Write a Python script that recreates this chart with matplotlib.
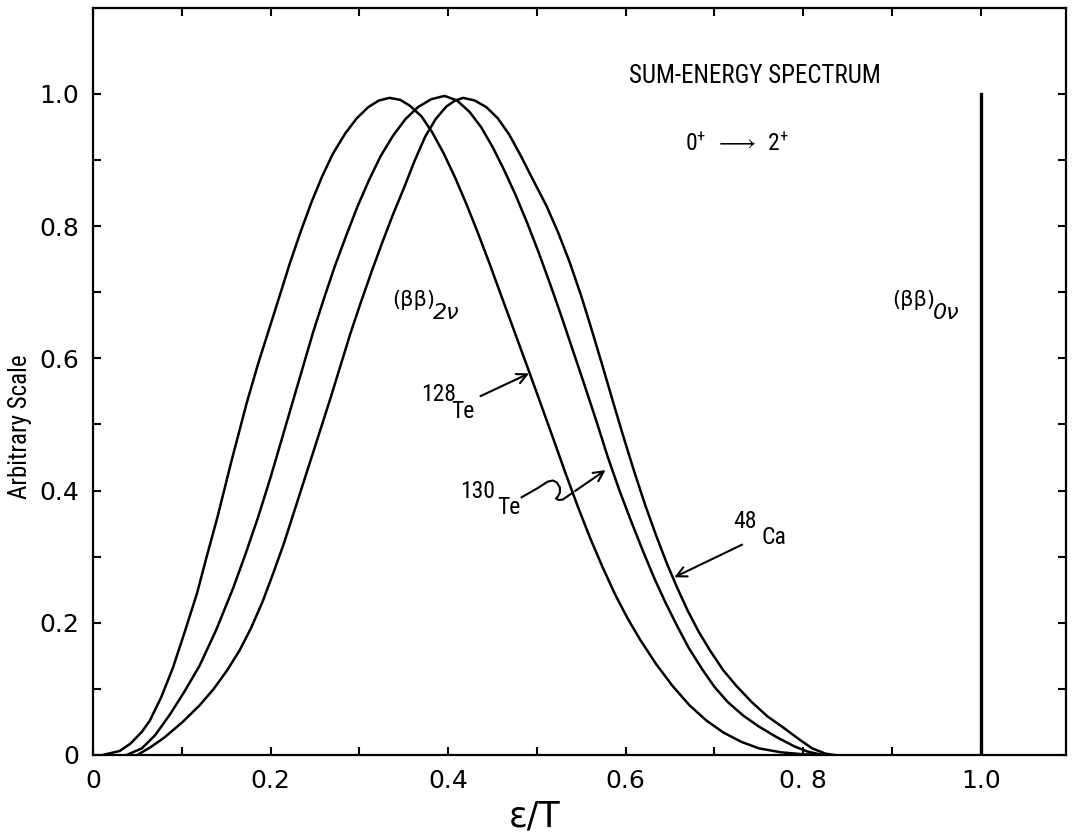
import matplotlib
matplotlib.use("Agg")
import matplotlib.pyplot as plt
from matplotlib import font_manager as fm
from matplotlib.ticker import FixedLocator, FixedFormatter

def pick(names):
    for n in names:
        try:
            fm.findfont(fm.FontProperties(family=n), fallback_to_default=False)
            return n
        except Exception:
            pass
    return "DejaVu Sans"

NARROW = pick(["Liberation Sans Narrow", "Roboto Condensed", "Open Sans Condensed", "Liberation Sans"])
plt.rcParams['font.family'] = [NARROW, 'DejaVu Sans']
plt.rcParams['mathtext.fontset'] = 'dejavusans'

# ---------------- data ----------------
te128_x = [0.011, 0.030, 0.042, 0.055, 0.064, 0.077, 0.090, 0.103, 0.117, 0.128, 0.140, 0.156,
           0.173, 0.186, 0.199, 0.211, 0.222, 0.234, 0.246, 0.258, 0.270, 0.284, 0.297, 0.310,
           0.322, 0.334, 0.346, 0.357, 0.370, 0.382, 0.395, 0.408, 0.421, 0.434, 0.447, 0.460,
           0.474, 0.489, 0.503, 0.518, 0.532, 0.546, 0.560, 0.574, 0.588, 0.602, 0.616, 0.634,
           0.653, 0.672, 0.691, 0.710, 0.730, 0.750, 0.775, 0.800, 0.820]
te128_y = [0.000, 0.006, 0.017, 0.035, 0.052, 0.088, 0.132, 0.185, 0.244, 0.300, 0.359, 0.445,
           0.532, 0.592, 0.647, 0.698, 0.745, 0.792, 0.836, 0.875, 0.909, 0.940, 0.963, 0.980,
           0.990, 0.994, 0.991, 0.982, 0.966, 0.942, 0.910, 0.873, 0.832, 0.788, 0.742, 0.694,
           0.643, 0.588, 0.536, 0.480, 0.427, 0.376, 0.328, 0.284, 0.243, 0.207, 0.175, 0.138,
           0.104, 0.075, 0.052, 0.034, 0.020, 0.010, 0.004, 0.001, 0.000]

te130_x = [0.038, 0.055, 0.070, 0.087, 0.103, 0.120, 0.139, 0.158, 0.172, 0.186, 0.200, 0.212,
           0.224, 0.236, 0.248, 0.260, 0.272, 0.285, 0.298, 0.311, 0.324, 0.338, 0.352, 0.366,
           0.381, 0.396, 0.410, 0.424, 0.437, 0.450, 0.463, 0.476, 0.489, 0.502, 0.515, 0.528,
           0.541, 0.554, 0.567, 0.580, 0.593, 0.606, 0.619, 0.632, 0.645, 0.658, 0.671, 0.686,
           0.700, 0.715, 0.732, 0.750, 0.770, 0.790, 0.805, 0.822]
te130_y = [0.000, 0.010, 0.030, 0.062, 0.096, 0.135, 0.190, 0.253, 0.305, 0.360, 0.420, 0.475,
           0.530, 0.585, 0.640, 0.690, 0.738, 0.785, 0.830, 0.870, 0.906, 0.937, 0.962, 0.980,
           0.992, 0.997, 0.990, 0.973, 0.950, 0.920, 0.885, 0.847, 0.805, 0.760, 0.712, 0.662,
           0.610, 0.558, 0.505, 0.450, 0.400, 0.354, 0.310, 0.268, 0.230, 0.195, 0.162, 0.130,
           0.103, 0.080, 0.060, 0.043, 0.027, 0.013, 0.005, 0.000]

ca48_x = [0.050, 0.065, 0.080, 0.101, 0.120, 0.136, 0.151, 0.165, 0.178, 0.191, 0.203, 0.215,
          0.226, 0.237, 0.248, 0.258, 0.268, 0.279, 0.290, 0.302, 0.314, 0.326, 0.338, 0.350,
          0.362, 0.374, 0.386, 0.398, 0.408, 0.417, 0.430, 0.443, 0.456, 0.469, 0.482, 0.496,
          0.511, 0.524, 0.537, 0.550, 0.562, 0.574, 0.586, 0.598, 0.610, 0.622, 0.634, 0.646,
          0.658, 0.670, 0.682, 0.695, 0.710, 0.725, 0.742, 0.760, 0.777, 0.795, 0.810, 0.825,
          0.835]
ca48_y = [0.000, 0.012, 0.026, 0.050, 0.075, 0.100, 0.128, 0.158, 0.192, 0.232, 0.275, 0.320,
          0.366, 0.412, 0.458, 0.500, 0.542, 0.590, 0.638, 0.686, 0.732, 0.776, 0.818, 0.857,
          0.898, 0.935, 0.962, 0.981, 0.990, 0.994, 0.990, 0.980, 0.963, 0.938, 0.906, 0.869,
          0.830, 0.790, 0.745, 0.694, 0.642, 0.588, 0.533, 0.479, 0.427, 0.378, 0.333, 0.291,
          0.253, 0.218, 0.187, 0.158, 0.128, 0.104, 0.080, 0.058, 0.042, 0.024, 0.010, 0.002,
          0.000]

zero_nu_x = [1.0, 1.0]
zero_nu_y = [0.0, 1.0]

x_ticks = [0.0, 0.1, 0.2, 0.3, 0.4, 0.5, 0.6, 0.7, 0.8, 0.9, 1.0]
x_ticklabels = ["0", "", "0.2", "", "0.4", "", "0.6", "", "0. 8", "", "1.0"]
y_ticks = [0.0, 0.1, 0.2, 0.3, 0.4, 0.5, 0.6, 0.7, 0.8, 0.9, 1.0]
y_ticklabels = ["0", "", "0.2", "", "0.4", "", "0.6", "", "0.8", "", "1.0"]

# ---------------- figure ----------------
fig = plt.figure(figsize=(10.72, 8.38), dpi=100)
ax = fig.add_axes([0.0868, 0.0991, 0.9076, 0.8914])

lw = 1.8
ax.plot(te128_x, te128_y, color='black', lw=lw, solid_joinstyle='round')
ax.plot(te130_x, te130_y, color='black', lw=lw, solid_joinstyle='round')
ax.plot(ca48_x, ca48_y, color='black', lw=lw, solid_joinstyle='round')
ax.plot(zero_nu_x, zero_nu_y, color='black', lw=2.4)

ax.set_xlim(0, 1.096)
ax.set_ylim(0, 1.13)

for s in ax.spines.values():
    s.set_linewidth(1.6)

ax.xaxis.set_major_locator(FixedLocator(x_ticks))
ax.xaxis.set_major_formatter(FixedFormatter(x_ticklabels))
ax.yaxis.set_major_locator(FixedLocator(y_ticks))
ax.yaxis.set_major_formatter(FixedFormatter(y_ticklabels))
ax.tick_params(direction='in', length=6, width=1.5, top=True, right=True,
               labelsize=18, pad=10)
for lab in ax.get_xticklabels() + ax.get_yticklabels():
    lab.set_family('DejaVu Sans')

ax.set_xlabel("ε/T", fontsize=25, family='DejaVu Sans')
ax.xaxis.set_label_coords(0.454, -0.060)
ax.set_ylabel("Arbitrary Scale", fontsize=18)
ax.yaxis.set_label_coords(-0.063, 0.439)

# annotations
ax.text(0.745, 1.027, "SUM-ENERGY SPECTRUM", fontsize=18, ha='center', va='center')
ax.text(0.725, 0.923, r"$\mathregular{0^{+}\ \longrightarrow\ 2^{+}}$", fontsize=17,
        ha='center', va='center')

ax.text(0.337, 0.688, "(ββ)", fontsize=15, ha='left', va='center', family='DejaVu Sans')
ax.text(0.383, 0.668, "2ν", fontsize=16, ha='left', va='center', family='DejaVu Sans',
        style='italic')
ax.text(0.900, 0.688, "(ββ)", fontsize=15, ha='left', va='center', family='DejaVu Sans')
ax.text(0.946, 0.668, "0ν", fontsize=16, ha='left', va='center', family='DejaVu Sans',
        style='italic')

arrow_kw = dict(arrowstyle='->', lw=1.5, color='black', mutation_scale=18)

ax.text(0.370, 0.545, "128", fontsize=17, ha='left', va='center')
ax.text(0.404, 0.520, "Te", fontsize=17, ha='left', va='center')
ax.annotate("", xy=(0.494, 0.579), xytext=(0.4336, 0.541), arrowprops=arrow_kw)

ax.text(0.413, 0.398, "130", fontsize=17, ha='left', va='center')
ax.text(0.455, 0.374, "Te", fontsize=17, ha='left', va='center')
wave_x = [0.4828, 0.5000, 0.5124, 0.5180, 0.5225, 0.5259, 0.5259, 0.5236, 0.5214, 0.5248,
          0.5293, 0.5405]
wave_y = [0.3898, 0.4030, 0.4136, 0.4152, 0.4121, 0.4045, 0.3970, 0.3909, 0.3879, 0.3856,
          0.3864, 0.3970]
ax.plot(wave_x, wave_y, color='black', lw=1.5, solid_joinstyle='round')
ax.annotate("", xy=(0.580, 0.4333), xytext=(0.5405, 0.3970), arrowprops=arrow_kw)

ax.text(0.721, 0.353, "48", fontsize=17, ha='left', va='center')
ax.text(0.753, 0.329, "Ca", fontsize=17, ha='left', va='center')
ax.annotate("", xy=(0.652, 0.267), xytext=(0.734, 0.32), arrowprops=arrow_kw)

fig.savefig("out.png", dpi=100)
